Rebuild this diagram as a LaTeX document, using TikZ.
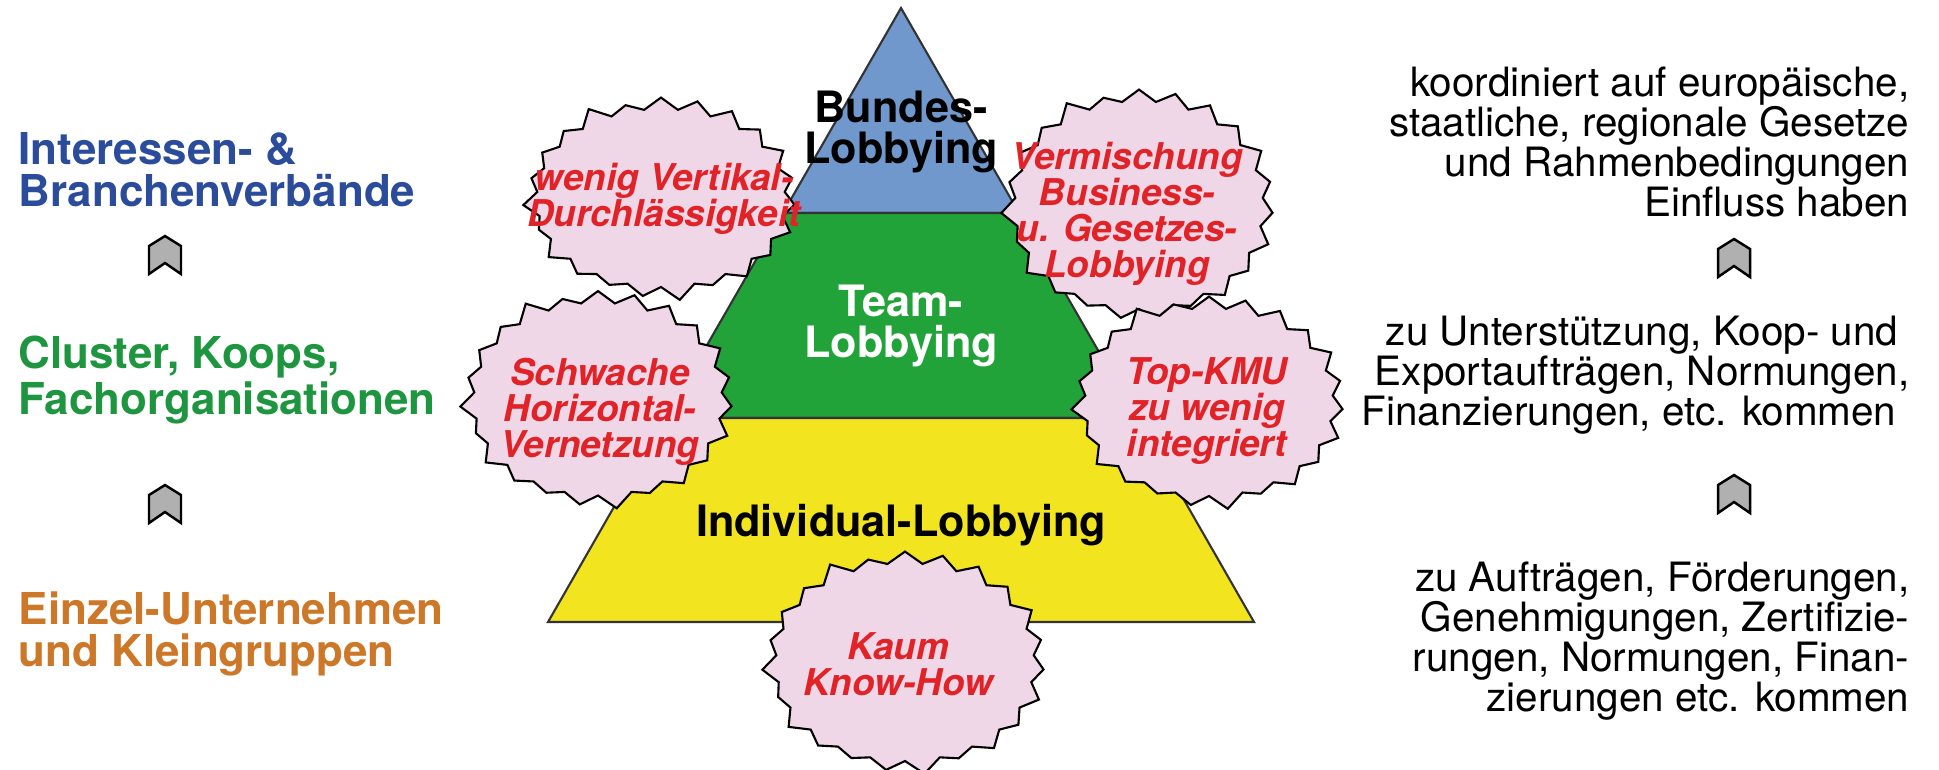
\documentclass[tikz,border=0pt]{standalone}
\usepackage{fontspec}
\setmainfont{TeX Gyre Heros}
\newcommand\rightfont{\fontsize{11.5}{11.4}\selectfont\setlength{\lineskiplimit}{-20pt}}
\usetikzlibrary{shapes.symbols}
\definecolor{verbandblue}{RGB}{43,76,155}
\definecolor{clustergreen}{RGB}{30,150,64}
\definecolor{einzelorange}{RGB}{205,120,40}
\definecolor{bundblue}{RGB}{112,152,204}
\definecolor{teamgreen}{RGB}{34,163,58}
\definecolor{indyellow}{RGB}{242,228,30}
\definecolor{burstpink}{RGB}{240,215,232}
\definecolor{burstred}{RGB}{225,35,40}
\definecolor{chevgrey}{RGB}{176,176,176}
\begin{document}
\begin{tikzpicture}[x=0.1mm, y=-0.1mm,
    lefttext/.style={anchor=west, align=left, inner sep=0pt, font=\bfseries\fontsize{12.5}{12}\selectfont},
    pyrtext/.style={align=center, inner sep=0pt, font=\bfseries\fontsize{12.3}{11.6}\selectfont},
    pyrline/.style={draw=black!80, line width=0.6pt},
    burst/.style={starburst, starburst points=23, starburst point height=1.6mm, minimum width=28mm, inner sep=0pt, draw=black, line width=0.6pt, fill=burstpink},
    bursttext/.style={align=center, inner sep=0pt, text=burstred, font=\bfseries\itshape\fontsize{10.5}{10.2}\selectfont},
    righttext/.style={anchor=east, align=right, inner sep=0pt, font=\rightfont},
    chev/.style={draw=black, line width=0.7pt, fill=chevgrey}]
  \fill[white] (0,0) rectangle (1939,769);
  \useasboundingbox (0,0) rectangle (1939,769);

  % pyramid
  \coordinate (apex) at (901,8);
  \coordinate (b1l) at (783,213);
  \coordinate (b1r) at (1019,213);
  \coordinate (b2l) at (665,418);
  \coordinate (b2r) at (1137,418);
  \coordinate (b3l) at (548,622);
  \coordinate (b3r) at (1254,622);
  \filldraw[pyrline, fill=bundblue] (apex) -- (b1r) -- (b1l) -- cycle;
  \filldraw[pyrline, fill=teamgreen] (b1l) -- (b1r) -- (b2r) -- (b2l) -- cycle;
  \filldraw[pyrline, fill=indyellow] (b2l) -- (b2r) -- (b3r) -- (b3l) -- cycle;

  % weak points
  \node[burst, minimum height=21mm] (wenig) at (661,198) {};
  \node[burst, minimum height=24mm] (vermisch) at (1139,205) {};
  \node[burst, minimum height=22.5mm] (schwach) at (598,399) {};
  \node[burst, minimum height=22mm] (topkmu) at (1209,402) {};
  \node[burst, minimum height=23mm, minimum width=29mm] (kaum) at (905,662) {};

  \node[pyrtext] (bundes) at (901,132) {Bundes-\\Lobbying};
  \node[pyrtext, text=white] (team) at (901,326) {Team-\\Lobbying};
  \node[pyrtext] (indiv) at (901,525) {Individual-Lobbying};

  \node[bursttext] (wenig-t) at (664,199) {wenig Vertikal-\\Durchlässigkeit};
  \node[bursttext] (vermisch-t) at (1127,214) {Vermischung\\Business-\\u. Gesetzes-\\Lobbying};
  \node[bursttext] (schwach-t) at (600,412) {Schwache\\Horizontal-\\Vernetzung};
  \node[bursttext] (topkmu-t) at (1207,411) {Top-KMU\\zu wenig\\integriert};
  \node[bursttext] (kaum-t) at (898,664) {Kaum\\Know-How};

  % levels
  \node[lefttext, text=verbandblue] (verband) at (18,170) {Interessen- \&\\Branchenverbände};
  \node[lefttext, text=clustergreen] (cluster) at (18,380) {Cluster, Koops,\\Fachorganisationen};
  \node[lefttext, text=einzelorange] (einzel) at (18,634) {Einzel-Unternehmen\\und Kleingruppen};

  \node[righttext] (einfluss) at (1910,142) {koordiniert auf europäische,\\staatliche, regionale Gesetze\hspace*{1.3mm}\\und Rahmenbedingungen\hspace*{1.3mm}\\Einfluss haben};
  \node[righttext] (unterst) at (1910,375) {zu Unterstützung, Koop- und\hspace*{1.1mm}\\Exportaufträgen, Normungen,\\Finanzierungen, etc. kommen\hspace*{1.3mm}};
  \node[righttext] (auftrag) at (1910,641) {zu Aufträgen, Förderungen,\\Genehmigungen, Zertifizie-\\rungen, Normungen, Finan-\hspace*{0.6mm}\\zierungen etc. kommen};

  \foreach \cx/\cy in {165/255, 165/504, 1734/258, 1734/494}
    \draw[chev] (\cx-16,\cy+19) -- (\cx-16,\cy-9) -- (\cx,\cy-19) -- (\cx+16,\cy-9) -- (\cx+16,\cy+19) -- (\cx,\cy+8) -- cycle;
\end{tikzpicture}
\end{document}
